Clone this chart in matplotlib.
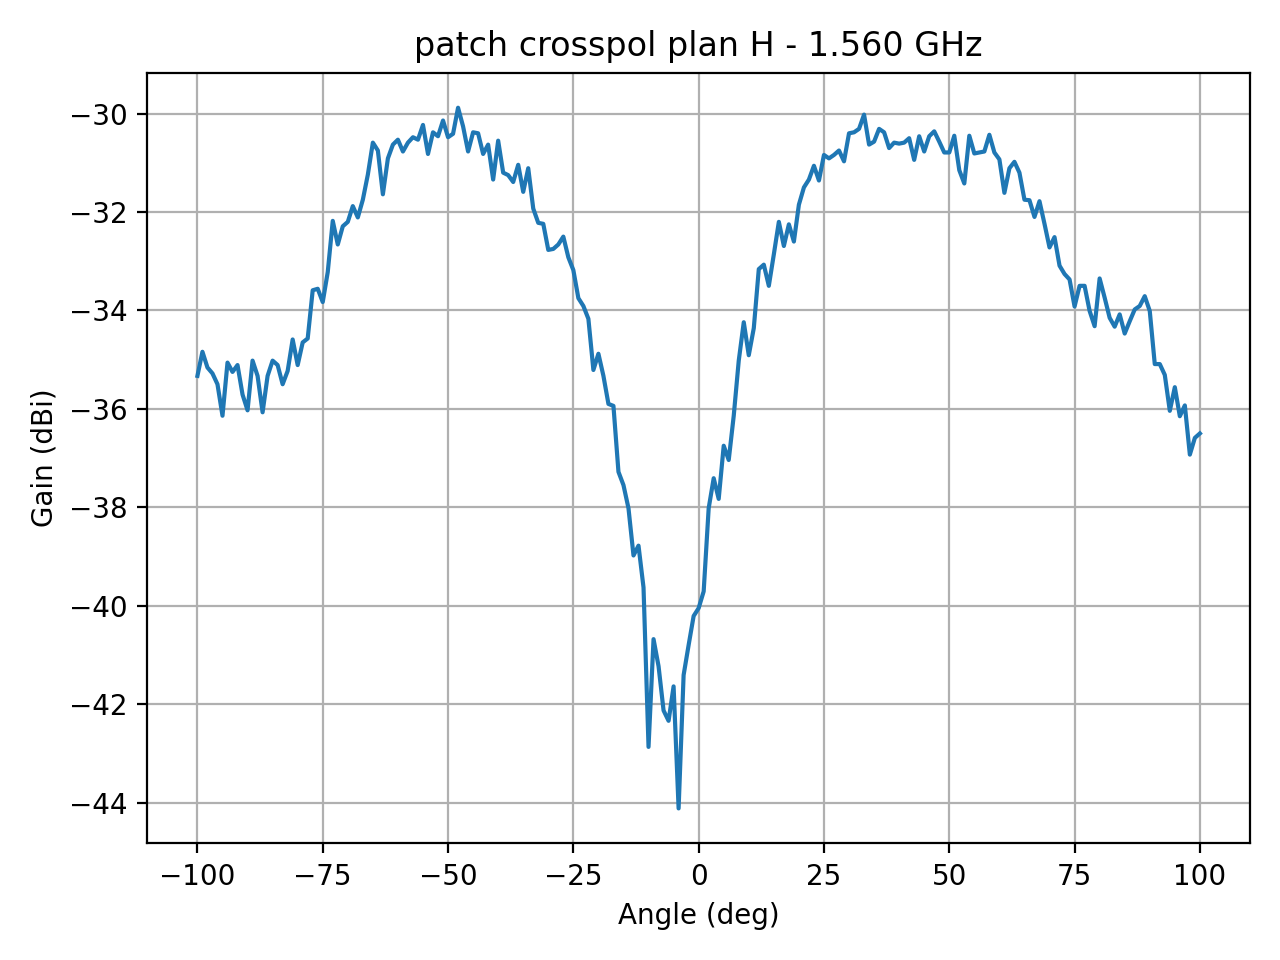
import numpy as np
import matplotlib
matplotlib.use('Agg')
import matplotlib.pyplot as plt

# angles from -100 to 100 deg, 1 deg step
angle = np.arange(-100, 101, 1)

# gain (dBi)
gain_a = [-35.33, -34.84, -35.16, -35.28, -35.50, -36.14, -35.06, -35.25, -35.11, -35.71,
          -36.03, -35.02, -35.33, -36.07, -35.33, -35.02, -35.11, -35.50, -35.23, -34.59,
          -35.11, -34.65, -34.57, -33.59, -33.56, -33.83, -33.22, -32.18, -32.66, -32.29,
          -32.20, -31.88, -32.11, -31.75, -31.24]            # -100 .. -66
gain_b = [-30.59, -30.75, -31.64, -30.91, -30.63, -30.53, -30.77, -30.59, -30.48, -30.53,
          -30.23, -30.82, -30.38, -30.46, -30.14, -30.48, -30.41, -29.88, -30.26, -30.77,
          -30.38, -30.40, -30.82, -30.63, -31.34, -30.55, -31.20, -31.25, -31.39, -31.04,
          -31.59, -31.11, -31.93]                            # -65 .. -33
gain_c = [-32.22, -32.24, -32.77, -32.75, -32.66, -32.50, -32.92, -33.18, -33.75, -33.91,
          -34.17, -35.21, -34.88, -35.33, -35.90, -35.94, -37.28, -37.55, -38.02, -38.98,
          -38.78, -39.63, -42.87, -40.68, -41.23, -42.13, -42.34, -41.64, -44.12, -41.41,
          -40.80, -40.21, -40.05]                            # -32 .. 0
gain_d = [-39.71, -38.02, -37.41, -37.83, -36.75, -37.04, -36.14, -35.02, -34.24, -34.91,
          -34.36, -33.16, -33.07, -33.50, -32.86, -32.20, -32.69, -32.25, -32.60, -31.85,
          -31.50, -31.34, -31.06, -31.36, -30.84, -30.91, -30.84, -30.75, -30.97, -30.40,
          -30.38, -30.31, -30.02]                            # 1 .. 33
gain_e = [-30.63, -30.57, -30.31, -30.38, -30.70, -30.59, -30.61, -30.59, -30.50, -30.94,
          -30.46, -30.77, -30.46, -30.36, -30.57, -30.79, -30.79, -30.45, -31.15, -31.42,
          -30.45, -30.81, -30.79, -30.77, -30.43, -30.79, -30.93, -31.61, -31.11, -30.98,
          -31.20, -31.75, -31.76]                            # 34 .. 66
gain_f = [-32.10, -31.78, -32.24, -32.72, -32.51, -33.09, -33.26, -33.37, -33.92, -33.50,
          -33.50, -34.01, -34.32, -33.35, -33.74, -34.15, -34.33, -34.08, -34.47, -34.22,
          -33.98, -33.91, -33.71, -34.01, -35.09, -35.09, -35.31, -36.04, -35.56, -36.15,
          -35.93, -36.93, -36.59, -36.50]                    # 67 .. 100

gain = np.array(gain_a + gain_b + gain_c + gain_d + gain_e + gain_f)

plt.figure(figsize=(6.4, 4.8), dpi=200, facecolor='w')
plt.plot(angle, gain)
plt.grid(True)
plt.xlabel('Angle (deg)')
plt.ylabel('Gain (dBi)')
plt.title('patch crosspol plan H - 1.560 GHz')
plt.tight_layout()
plt.savefig('out.png')
